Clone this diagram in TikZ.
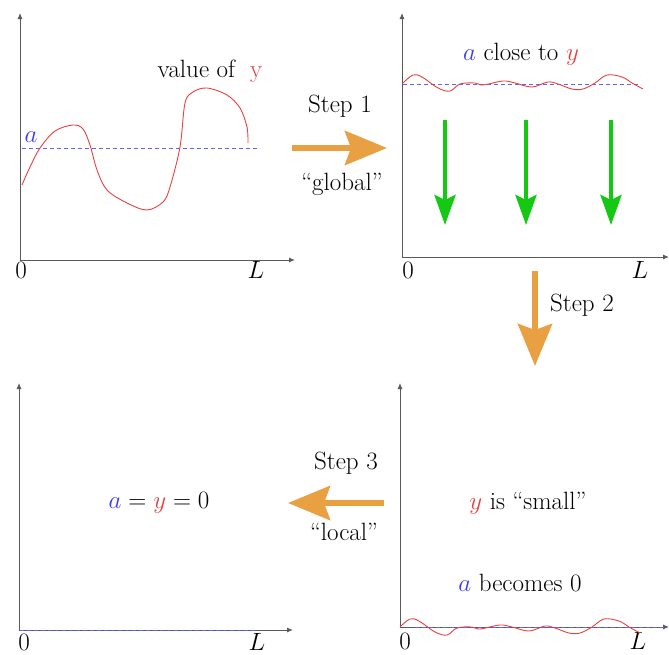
\RequirePackage{fix-cm}
\documentclass[tikz,border=0pt]{standalone}
\usetikzlibrary{arrows.meta}
\definecolor{mred}{RGB}{232,64,64}
\definecolor{mblue}{RGB}{60,60,235}
\definecolor{mdash}{RGB}{100,100,240}
\definecolor{morange}{RGB}{232,160,66}
\definecolor{mgreen}{RGB}{20,200,20}
\definecolor{maxis}{RGB}{90,90,90}
\begin{document}
\begin{tikzpicture}[x=1pt,y=-1pt,
  font=\fontsize{25}{30}\selectfont,
  axis/.style={draw=maxis,line width=0.9pt,-{Latex[length=6pt,width=5pt]}},
  curve/.style={draw=mred,line width=0.9pt},
  level/.style={draw=mdash,line width=1pt,dash pattern=on 4pt off 3pt},
  bigarrow/.style={draw=morange,line width=6pt,-{Stealth[length=42pt,width=34pt,inset=6pt]}},
  greenarrow/.style={draw=mgreen,line width=4pt,-{Stealth[length=30pt,width=21pt,inset=5pt]}},
  lbl/.style={inner sep=0pt},
  wiggle/.pic={
    \draw[curve] plot[smooth,tension=0.6] coordinates {
      (0,0) (10,-8) (19,-6) (35,5) (47,8) (57,1) (72,0) (80,2) (100,-2) (112,0)
      (129,4) (145,-1) (155,1) (169,6) (180,6) (192,0) (204,-8) (219,-6) (229,0) (240,6)};
  }]
\useasboundingbox (0,0) rectangle (669,654);

% ---------- Panel 1 ----------
\coordinate (o1) at (20,260);
\coordinate (t1) at (20,13);
\coordinate (r1) at (295,260);
\draw[axis] (o1) -- (t1);
\draw[axis] (o1) -- (r1);
\node[lbl] (z1) at (21,270) {$0$};
\node[lbl] (L1) at (256,270) {$L$};
\coordinate (a1s) at (22,148);
\coordinate (a1e) at (260,148);
\draw[level] (a1s) -- (a1e);
\node[lbl,text=mblue] (a1) at (31,137) {$a$};
\node[lbl] (val) at (210,71) {value of\ \ \textcolor{mred}{y}};
\draw[curve] plot[smooth,tension=0.55] coordinates {
  (22,185) (30,167) (40,148) (55,131) (73,125) (83,129) (90,145) (97,170)
  (107,190) (127,203) (147,210) (163,202) (170,187) (180,147) (185,103)
  (193,92) (207,88) (227,95) (240,108) (247,127) (248,143)};

% ---------- Panel 2 ----------
\coordinate (o2) at (402,257);
\coordinate (t2) at (402,13);
\coordinate (r2) at (669,257);
\draw[axis] (o2) -- (t2);
\draw[axis] (o2) -- (r2);
\node[lbl] (z2) at (408,270) {$0$};
\node[lbl] (L2) at (640,270) {$L$};
\coordinate (a2s) at (403,84);
\coordinate (a2e) at (641,84);
\draw[level] (a2s) -- (a2e);
\pic at (403,83) {wiggle};
\node[lbl] (close) at (521,54) {\textcolor{mblue}{$a$} close to \textcolor{mred}{$y$}};
\coordinate (g1s) at (445,120); \coordinate (g1e) at (445,225);
\coordinate (g2s) at (526,120); \coordinate (g2e) at (526,225);
\coordinate (g3s) at (611,120); \coordinate (g3e) at (611,225);
\draw[greenarrow] (g1s) -- (g1e);
\draw[greenarrow] (g2s) -- (g2e);
\draw[greenarrow] (g3s) -- (g3e);

% ---------- Panel 3 (bottom right) ----------
\coordinate (o3) at (400,627);
\coordinate (t3) at (400,383);
\coordinate (r3) at (669,627);
\draw[axis] (o3) -- (t3);
\draw[axis] (o3) -- (r3);
\node[lbl] (z3) at (405,641) {$0$};
\node[lbl] (L3) at (638,641) {$L$};
\coordinate (a3s) at (415,627);
\coordinate (a3e) at (667,627);
\draw[level] (a3s) -- (a3e);
\pic at (400,627) {wiggle};
\node[lbl] (small) at (528,503) {\textcolor{mred}{$y$} is ``small''};
\node[lbl] (becomes) at (520,583) {\textcolor{mblue}{$a$} becomes 0};

% ---------- Panel 4 (bottom left) ----------
\coordinate (o4) at (19,630);
\coordinate (t4) at (19,383);
\coordinate (r4) at (293,630);
\draw[axis] (o4) -- (t4);
\draw[axis] (o4) -- (r4);
\node[lbl] (z4) at (24,642) {$0$};
\node[lbl] (L4) at (257,642) {$L$};
\coordinate (a4s) at (20,630);
\coordinate (a4e) at (255,630);
\draw[level] (a4s) -- (a4e);
\node[lbl] (eq) at (159,503) {$\textcolor{mblue}{a}=\textcolor{mred}{y}=0$};

% ---------- Step arrows ----------
\coordinate (s1s) at (292,148); \coordinate (s1e) at (387,148);
\draw[bigarrow] (s1s) -- (s1e);
\node[lbl] (st1) at (340,106) {Step 1};
\node[lbl] (glob) at (342,184) {``global''};

\coordinate (s2s) at (535,271); \coordinate (s2e) at (535,366);
\draw[bigarrow] (s2s) -- (s2e);
\node[lbl] (st2) at (582,305) {Step 2};

\coordinate (s3s) at (384,503); \coordinate (s3e) at (288,503);
\draw[bigarrow] (s3s) -- (s3e);
\node[lbl] (st3) at (346,463) {Step 3};
\node[lbl] (loc) at (344,532) {``local''};
\end{tikzpicture}
\end{document}
